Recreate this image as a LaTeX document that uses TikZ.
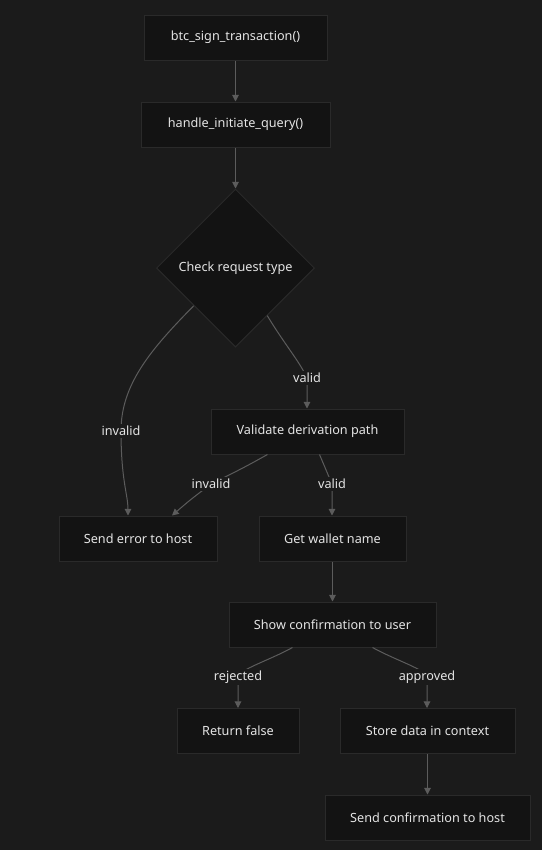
\documentclass[tikz,border=0pt]{standalone}
\usepackage{fontspec}
\setmainfont{Noto Sans}
\usetikzlibrary{shapes.geometric,arrows.meta,calc}
\definecolor{bgc}{HTML}{1B1B1B}
\definecolor{nodefill}{HTML}{131313}
\definecolor{nodeline}{HTML}{2A2A2A}
\definecolor{edgec}{HTML}{5C5C5C}
\definecolor{txt}{HTML}{E4E4E4}
\tikzset{
  box/.style={draw=nodeline, fill=nodefill, line width=0.75pt, minimum height=33.75pt, inner sep=0pt, text=txt, font=\fontsize{9.5pt}{11pt}\selectfont},
  dia/.style={diamond, draw=nodeline, fill=nodefill, line width=0.75pt, minimum width=118.5pt, minimum height=118.5pt, inner sep=0pt, text=txt, font=\fontsize{9.5pt}{11pt}\selectfont},
  lbl/.style={fill=bgc, inner sep=1.5pt, text=txt, font=\fontsize{9.5pt}{11pt}\selectfont},
  edge/.style={draw=edgec, line width=0.75pt, -{Triangle[width=5pt,length=5pt]}},
}
\begin{document}
\begin{tikzpicture}[x=0.75pt,y=-0.75pt]
\path[fill=bgc] (0,0) rectangle (542,850);
\useasboundingbox (0,0) rectangle (542,850);
\node[box, minimum width=137.25pt] (btc) at (235.5,37.5) {btc\_sign\_transaction()};
\node[box, minimum width=141.75pt] (hiq) at (235.5,124.5) {handle\_initiate\_query()};
\node[dia] (chk) at (235.5,268) {Check request type};
\node[box, minimum width=144.75pt] (vdp) at (307.5,431.5) {Validate derivation path};
\node[box, minimum width=118.5pt] (seh) at (138,538.5) {Send error to host};
\node[box, minimum width=110.25pt] (gwn) at (332.5,538.5) {Get wallet name};
\node[box, minimum width=155.25pt] (scu) at (332.5,624.5) {Show confirmation to user};
\node[box, minimum width=91.5pt] (rf) at (238,731) {Return false};
\node[box, minimum width=131.25pt] (sdc) at (427.5,731) {Store data in context};
\node[box, minimum width=153.75pt] (sch) at (427.5,817.5) {Send confirmation to host};

\coordinate (p1) at (121,431);
\coordinate (p2) at (307,378);
\coordinate (p3) at (211,484);
\coordinate (p4) at (332,484);
\coordinate (p5) at (238,677);
\coordinate (p6) at (427,677);

\draw[edge] (btc) -- (hiq);
\draw[edge] (hiq) -- (chk);
\draw[edge] ($(chk.south west)!0.05!(chk.west)$) .. controls (150,350) and (121,385) .. (p1) .. controls (121,480) and (128,495) .. ($(seh.north)+(-10,0)$);
\draw[edge] ($(chk.south east)!0.2!(chk.south)$) .. controls (285,345) and (300,362) .. (p2) -- (p2 |- vdp.north);
\draw[edge] ($(vdp.south)+(-40,0)$) .. controls (245,467) .. (p3) .. controls (190,500) .. ($(seh.north)+(34,0)$);
\draw[edge] ($(vdp.south)+(12,0)$) .. controls (326,470) .. (p4) -- (p4 |- gwn.north);
\draw[edge] (gwn) -- (scu);
\draw[edge] ($(scu.south)+(-40,0)$) .. controls (270,660) and (238,670) .. (p5) -- (rf.north);
\draw[edge] ($(scu.south)+(40,0)$) .. controls (395,660) and (427,670) .. (p6) -- (p6 |- sdc.north);
\draw[edge] (sdc) -- (sch);

\node[lbl] (l1) at (p1) {invalid};
\node[lbl] (l2) at (p2) {valid};
\node[lbl] (l3) at (p3) {invalid};
\node[lbl] (l4) at (p4) {valid};
\node[lbl] (l5) at (p5) {rejected};
\node[lbl] (l6) at (p6) {approved};
\end{tikzpicture}
\end{document}
